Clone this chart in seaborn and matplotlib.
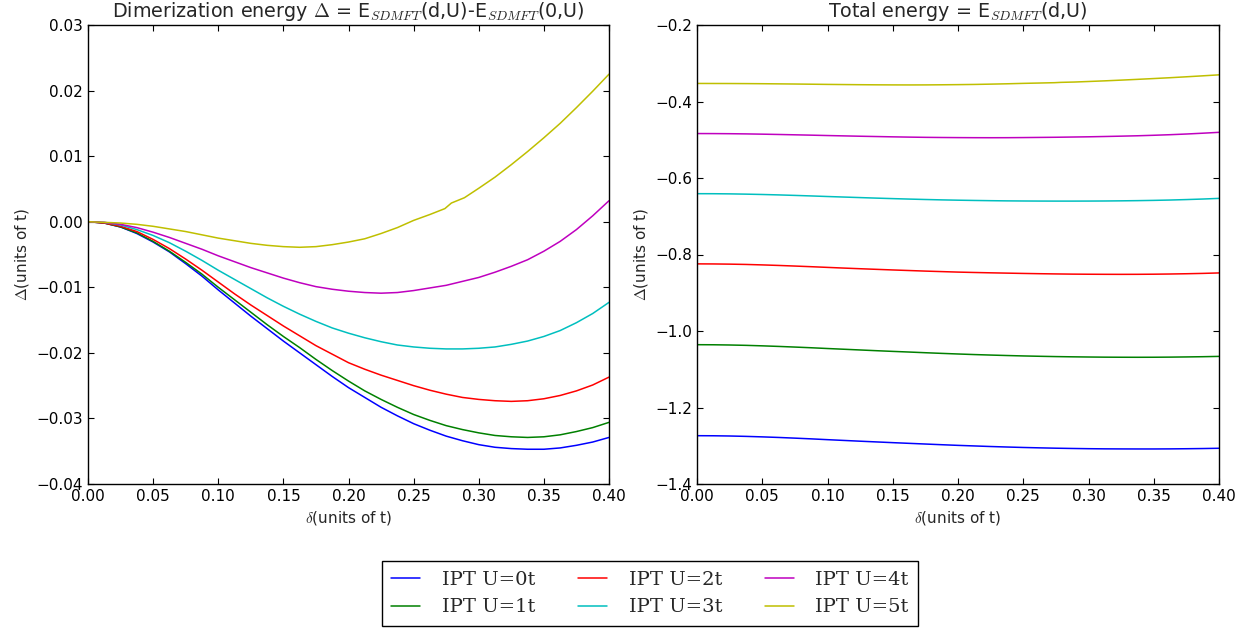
import numpy as np
import pandas as pd
import matplotlib
matplotlib.use("Agg")
import matplotlib.pyplot as plt
import seaborn as sns

# dimerization delta (units of t), sampled every 0.0125
delta = [0.0, 0.0125, 0.025, 0.0375, 0.05, 0.0625, 0.075, 0.0875, 0.1, 0.1125, 0.125,
         0.1375, 0.15, 0.1625, 0.175, 0.1875, 0.2, 0.2125, 0.225, 0.2375, 0.25, 0.2625,
         0.275, 0.2875, 0.3, 0.3125, 0.325, 0.3375, 0.35, 0.3625, 0.375, 0.3875, 0.4]
# the U=5t run has a few extra samples around the kink near 0.28
delta_u5 = [0.0, 0.0125, 0.025, 0.0375, 0.05, 0.0625, 0.075, 0.0875, 0.1, 0.1125, 0.125,
            0.1375, 0.15, 0.1625, 0.175, 0.1875, 0.2, 0.2125, 0.225, 0.2375, 0.25, 0.2625,
            0.274, 0.279, 0.289, 0.3, 0.3125, 0.325, 0.3375, 0.35, 0.3625, 0.375, 0.3875, 0.4]

# dimerization energy E(d,U) - E(0,U)
dim_u0 = [0.0, -0.0002, -0.0008, -0.0018, -0.0031, -0.0046, -0.0064, -0.0083, -0.0104,
          -0.0124, -0.0144, -0.0163, -0.0182, -0.0200, -0.0218, -0.0236, -0.0253, -0.0268,
          -0.0283, -0.0296, -0.0308, -0.0318, -0.0327, -0.0334, -0.0340, -0.0344, -0.0346,
          -0.0347, -0.0347, -0.0345, -0.0341, -0.0336, -0.0329]
dim_u1 = [0.0, -0.0002, -0.0008, -0.0017, -0.0030, -0.0045, -0.0062, -0.0080, -0.0100,
          -0.0119, -0.0138, -0.0157, -0.0175, -0.0192, -0.0210, -0.0227, -0.0243, -0.0258,
          -0.0271, -0.0283, -0.0294, -0.0303, -0.0311, -0.0317, -0.0322, -0.0326, -0.0328,
          -0.0329, -0.0328, -0.0325, -0.0320, -0.0314, -0.0306]
dim_u2 = [0.0, -0.0002, -0.0007, -0.0015, -0.0027, -0.0041, -0.0057, -0.0074, -0.0092,
          -0.0110, -0.0127, -0.0143, -0.0159, -0.0174, -0.0189, -0.0202, -0.0215, -0.0225,
          -0.0234, -0.0242, -0.0250, -0.0257, -0.0263, -0.0268, -0.0271, -0.0273, -0.0274,
          -0.0273, -0.0270, -0.0265, -0.0258, -0.0249, -0.0237]
dim_u3 = [0.0, -0.0001, -0.0005, -0.0012, -0.0021, -0.0032, -0.0045, -0.0059, -0.0074,
          -0.0088, -0.0102, -0.0116, -0.0129, -0.0141, -0.0152, -0.0162, -0.0170, -0.0177,
          -0.0183, -0.0188, -0.0191, -0.0193, -0.0194, -0.0194, -0.0193, -0.0191, -0.0187,
          -0.0182, -0.0175, -0.0166, -0.0154, -0.0140, -0.0123]
dim_u4 = [0.0, -0.0001, -0.0004, -0.0009, -0.0016, -0.0024, -0.0033, -0.0042, -0.0052,
          -0.0061, -0.0070, -0.0078, -0.0086, -0.0093, -0.0099, -0.0103, -0.0106, -0.0108,
          -0.0109, -0.0108, -0.0105, -0.0101, -0.0097, -0.0091, -0.0085, -0.0077, -0.0068,
          -0.0058, -0.0045, -0.0030, -0.0012, 0.0009, 0.0032]
dim_u5 = [0.0, -0.0001, -0.0002, -0.0004, -0.0007, -0.0011, -0.0015, -0.0020, -0.0025,
          -0.0029, -0.0033, -0.0036, -0.0038, -0.0039, -0.0038, -0.0035, -0.0031, -0.0026,
          -0.0018, -0.0009, 0.0002, 0.0011, 0.0020, 0.00285, 0.00366, 0.0051, 0.0068,
          0.0087, 0.0107, 0.0128, 0.0150, 0.0174, 0.0199, 0.0225]

# undimerized energy E(0,U)
e0 = [-1.2737, -1.0358, -0.8245, -0.6410, -0.4838, -0.3528]

labels = ["IPT U=0t", "IPT U=1t", "IPT U=2t", "IPT U=3t", "IPT U=4t", "IPT U=5t"]
colors = ["#0000ff", "#008000", "#ff0000", "#00bfbf", "#bf00bf", "#bfbf00"]

sns.set_style("white", {
    "xtick.direction": "in", "ytick.direction": "in",
    "xtick.top": True, "ytick.right": True,
    "xtick.bottom": True, "ytick.left": True,
    "axes.edgecolor": "black",
})
plt.rcParams["font.family"] = ["DejaVu Sans"]
plt.rcParams["mathtext.fontset"] = "cm"
plt.rcParams["font.size"] = 11
plt.rcParams["axes.linewidth"] = 1.0

fig = plt.figure(figsize=(12.55, 6.3), dpi=100)
ax1 = fig.add_axes([88 / 1255, 146 / 630, 521 / 1255, 459 / 630])
ax2 = fig.add_axes([697 / 1255, 146 / 630, 522 / 1255, 459 / 630])

series = [dim_u0, dim_u1, dim_u2, dim_u3, dim_u4, dim_u5]
for i, dim in enumerate(series):
    xs = delta_u5 if i == 5 else delta
    df = pd.DataFrame({"d": xs, "dim": dim, "tot": np.array(dim) + e0[i]})
    sns.lineplot(data=df, x="d", y="dim", ax=ax1, color=colors[i], lw=1.1,
                 label=labels[i], estimator=None, legend=False)
    sns.lineplot(data=df, x="d", y="tot", ax=ax2, color=colors[i], lw=1.1,
                 estimator=None, legend=False)

xt = np.arange(0, 0.401, 0.05)
ax1.set_xlim(0, 0.4)
ax1.set_ylim(-0.04, 0.03)
ax1.set_xticks(xt)
ax1.set_xticklabels([f"{v:.2f}" for v in xt])
yt1 = np.arange(-0.04, 0.0301, 0.01)
ax1.set_yticks(yt1)
ax1.set_yticklabels([f"{v:.2f}".replace("-", "\u2212") for v in yt1])
ax1.set_title(r"Dimerization energy $\Delta$ = E$_{SDMFT}$(d,U)-E$_{SDMFT}$(0,U)", fontsize=13.8)
ax1.set_xlabel(r"$\delta$(units of t)")
ax1.set_ylabel(r"$\Delta$(units of t)")

ax2.set_xlim(0, 0.4)
ax2.set_ylim(-1.4, -0.2)
ax2.set_xticks(xt)
ax2.set_xticklabels([f"{v:.2f}" for v in xt])
yt2 = np.arange(-1.4, -0.19, 0.2)
ax2.set_yticks(yt2)
ax2.set_yticklabels([f"{v:.1f}".replace("-", "\u2212") for v in yt2])
ax2.set_title(r"Total energy = E$_{SDMFT}$(d,U)", fontsize=13.8)
ax2.set_xlabel(r"$\delta$(units of t)")
ax2.set_ylabel(r"$\Delta$(units of t)")

for ax in (ax1, ax2):
    for s in ax.spines.values():
        s.set_visible(True)
        s.set_color("black")
    ax.tick_params(direction="in", top=True, right=True, length=4, width=0.8, colors="black")

handles, lbls = ax1.get_legend_handles_labels()
fig.legend(handles, lbls, loc="center", bbox_to_anchor=(650 / 1255, 1 - 593.5 / 630),
           ncol=3, frameon=True, fancybox=False, edgecolor="black", framealpha=1,
           prop={"family": "DejaVu Serif", "size": 14},
           handlelength=1.5, columnspacing=2.2, borderpad=0.5, labelspacing=0.5,
           handletextpad=1.1)

fig.savefig("out.png", dpi=100, facecolor="white")
